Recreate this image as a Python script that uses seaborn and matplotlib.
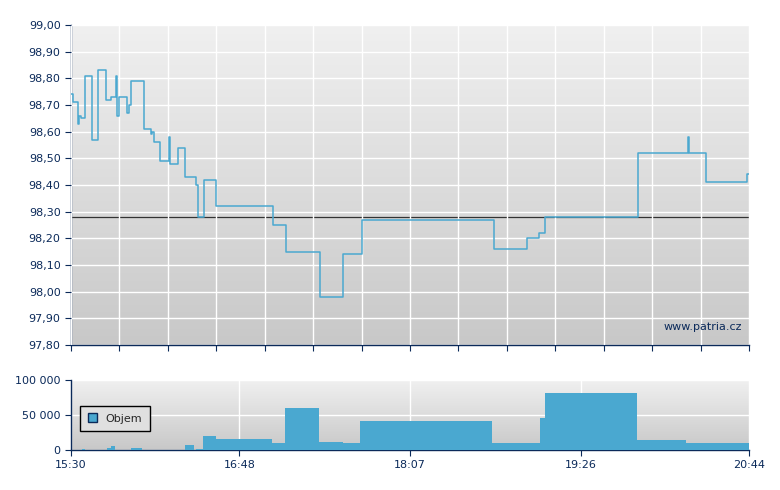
import numpy as np
import pandas as pd
import matplotlib
matplotlib.use("Agg")
import matplotlib.pyplot as plt
import seaborn as sns
from matplotlib.patches import Patch

# price: minutes after 15:30, value (step-post)
t_min = [0,1,3,3.2,3.7,4.6,6,6.5,9.3,9.7,12,12.5,15.7,16.2,18.1,18.5,20.4,20.8,21.3,22.2,25,25.9,26.9,27.8,
         33.3,33.8,36.6,37.1,37.5,38.4,40.8,41.2,44.9,45.4,45.9,49.1,49.6,52.3,52.8,57,57.9,58.8,61.1,61.6,66.7,67.2,
         93.1,93.6,99.1,99.6,114.9,115.3,125.5,126,133.9,134.8,195,195.9,210.3,211.2,215.8,216.8,218.6,219.5,
         261.7,262.7,285.3,285.8,286.2,293.7,294.2,312.6,313.1,314]
price = [98.74,98.71,98.71,98.63,98.66,98.65,98.65,98.81,98.81,98.57,98.57,98.83,98.83,98.72,98.72,98.73,98.73,98.81,98.66,98.73,
         98.73,98.67,98.70,98.79,98.79,98.61,98.61,98.59,98.60,98.56,98.56,98.49,98.49,98.58,98.48,98.48,98.54,98.54,98.43,98.43,
         98.40,98.28,98.28,98.42,98.42,98.32,98.32,98.25,98.25,98.15,98.15,97.98,97.98,98.14,98.14,98.27,98.27,98.16,98.16,98.20,
         98.20,98.22,98.22,98.28,98.28,98.52,98.52,98.58,98.52,98.52,98.41,98.41,98.44,98.44]
ref_price = 98.28

vol_start = [4.9,16.6,18.5,28,53,58,61,67,93,99,115,126,134,195,217,219.5,262,285]
vol_end   = [6.4,18.5,20.2,33,57,61,67,93,99,115,126,134,195,217,219.5,262,285,314]
volume    = [2000,3000,6000,3000,7000,2000,20000,16000,10500,60500,12000,10500,42000,10500,46000,82000,14500,10500]

x_labels = ["15:30","16:48","18:07","19:26","20:44"]
x_label_pos = [0,78,157,236,314]

navy = "#0b2a5a"
blue = "#4aa8d0"
sns.set_style("white")
plt.rcParams['font.family'] = ['DejaVu Sans']

fig = plt.figure(figsize=(7.8,4.9), dpi=100)
ax1 = fig.add_axes([71/780, 1-345/490, 678/780, 320/490])
ax2 = fig.add_axes([71/780, 1-450/490, 678/780, 70/490])

grad = np.linspace(0,1,256).reshape(-1,1)
from matplotlib.colors import LinearSegmentedColormap
cm = LinearSegmentedColormap.from_list("g", ["#f0f0f0", "#c8c8c8"])
for ax in (ax1, ax2):
    ax.imshow(grad, cmap=cm, aspect="auto", extent=[0,314,0,1], transform=ax.transAxes, zorder=0)

df = pd.DataFrame({"t": t_min, "p": price})
sns.lineplot(data=df, x="t", y="p", ax=ax1, drawstyle="steps-post", color=blue, lw=1.1, zorder=3, sort=False)
ax1.axhline(ref_price, color="#333333", lw=0.9, zorder=2)
ax1.set_xlim(0,314); ax1.set_ylim(97.8,99.0)
ax1.set_yticks(np.round(np.arange(97.8,99.001,0.1),2))
ax1.set_yticklabels([f"{v:.2f}".replace(".",",") for v in np.arange(97.8,99.001,0.1)])
ax1.set_xticks(np.linspace(0,314,15))
ax1.set_xticklabels([])
ax1.grid(True, color="white", lw=1)
ax1.set_axisbelow(False)
ax1.text(0.99,0.04,"www.patria.cz", transform=ax1.transAxes, ha="right", va="bottom", fontsize=8, color="#0b2a5a")

widths = [e-s for s,e in zip(vol_start, vol_end)]
ax2.bar(vol_start, volume, width=widths, align="edge", color=blue, edgecolor="none", zorder=3)
ax2.set_xlim(0,314); ax2.set_ylim(0,100000)
ax2.set_yticks([0,50000,100000]); ax2.set_yticklabels(["0","50 000","100 000"])
ax2.set_xticks(x_label_pos); ax2.set_xticklabels(x_labels)
ax2.grid(True, color="white", lw=1)
leg = ax2.legend(handles=[Patch(facecolor=blue, edgecolor=navy, label="Objem")], loc="center left",
                 bbox_to_anchor=(0.005,0.45), fontsize=8, fancybox=False, framealpha=1, handlelength=0.8,
                 handleheight=0.8, borderpad=0.7)
leg.get_frame().set_edgecolor("black"); leg.get_frame().set_facecolor("#e0e0e0")

for ax in (ax1, ax2):
    ax.set_xlabel(""); ax.set_ylabel("")
    for s in ["top","right"]: ax.spines[s].set_visible(False)
    for s in ["left","bottom"]: ax.spines[s].set_color(navy); ax.spines[s].set_linewidth(1)
    ax.tick_params(axis="both", direction="out", length=4, color=navy, labelsize=8, labelcolor="#0b2a5a",
                   left=True, bottom=True)

fig.savefig("out.png", dpi=100, facecolor="white")
